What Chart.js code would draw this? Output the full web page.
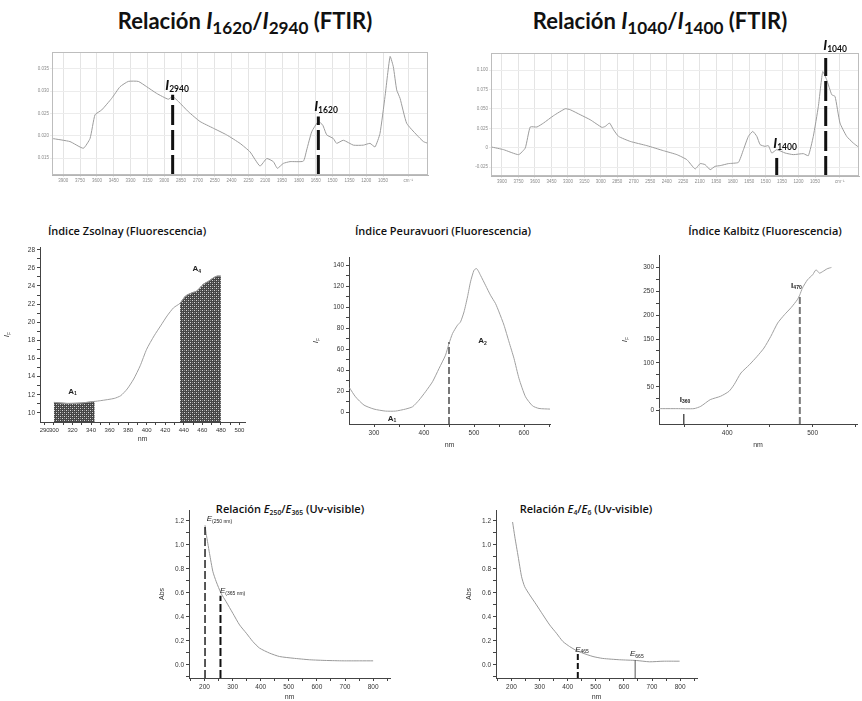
<!DOCTYPE html>
<html lang="es"><head><meta charset="utf-8">
<title>Índices espectroscópicos</title>
<script src="https://cdn.jsdelivr.net/npm/chart.js@4.4.1/dist/chart.umd.min.js"></script>
<style>
html,body{margin:0;padding:0;background:#fff}
body{position:relative;width:862px;height:701px;overflow:hidden}
canvas{position:absolute}
.t{position:absolute;white-space:nowrap;transform:translateX(-50%);color:#111;line-height:1}
.big{font:bold 22px Lato,'Open Sans',sans-serif}
.big sub{font-size:0.78em !important}
.small{font:600 11px 'Open Sans',Lato,sans-serif}
.t sub{font-size:0.62em;vertical-align:-0.3em;line-height:0}
</style></head><body>
<div class="t big" style="left:245px;top:7px">Relación <i>I</i><sub>1620</sub>/<i>I</i><sub>2940</sub> (FTIR)</div>
<div class="t big" style="left:660px;top:7px">Relación <i>I</i><sub>1040</sub>/<i>I</i><sub>1400</sub> (FTIR)</div>
<div class="t small" style="left:127px;top:223px">Índice Zsolnay (Fluorescencia)</div>
<div class="t small" style="left:443px;top:223px">Índice Peuravuori (Fluorescencia)</div>
<div class="t small" style="left:765px;top:223px">Índice Kalbitz (Fluorescencia)</div>
<div class="t small" style="left:290px;top:501px">Relación <i>E</i><sub>250</sub>/<i>E</i><sub>365</sub> (Uv-visible)</div>
<div class="t small" style="left:586px;top:501px">Relación <i>E</i><sub>4</sub>/<i>E</i><sub>6</sub> (Uv-visible)</div>
<script>
// ================= DATA =================
// FTIR common wavenumber ticks (cm-1)
const ftirTickValues = [3900,3750,3600,3450,3300,3150,3000,2850,2700,2550,2400,2250,2100,1950,1800,1650,1500,1350,1200,1050,825];
const ftirTickLabels = ['3900','3750','3600','3450','3300','3150','3000','2850','2700','2550','2400','2250','2100','1950','1800','1650','1500','1350','1200','1050','cm⁻¹'];

// FTIR spectrum 1 (I1620/I2940)
const ftir1Wn  = [4000,3840,3721,3661,3617,3557,3468,3394,3320,3231,3156,3067,2964,2925,2874,2785,2681,2563,2444,2325,2236,2147,2087,2028,1992,1939,1879,1761,1731,1686,1627,1588,1552,1494,1464,1404,1315,1226,1167,1122,1078,1033,988,959,929,899,840,751,691,650];
const ftir1Abs = [0.0194,0.0187,0.0172,0.0194,0.0247,0.0258,0.0284,0.0310,0.0322,0.0322,0.0310,0.0295,0.0282,0.0288,0.0277,0.0254,0.0232,0.0217,0.0202,0.0183,0.0164,0.0132,0.0149,0.0142,0.0127,0.0138,0.0142,0.0143,0.0168,0.0209,0.0232,0.0224,0.0202,0.0194,0.0183,0.0190,0.0179,0.0179,0.0183,0.0175,0.0205,0.0288,0.0378,0.0355,0.0303,0.0284,0.0228,0.0202,0.0187,0.0183];
const ftir1YTicks  = [0.015,0.020,0.025,0.030,0.035];
const ftir1YLabels = ['0.015','0.020','0.025','0.030','0.035'];
const ftir1PeakWn  = [2925,1627];
const ftir1PeakTop = [0.0292,0.0243];
const ftir1PeakSub = ['2940','1620'];

// FTIR spectrum 2 (I1040/I1400)
const ftir2Wn  = [4000,3885,3749,3688,3643,3582,3522,3431,3324,3279,3188,3097,2990,2960,2921,2885,2839,2733,2581,2430,2308,2217,2142,2096,2051,2005,1960,1914,1839,1748,1702,1657,1617,1580,1550,1505,1475,1444,1399,1323,1248,1157,1111,1066,1020,980,944,898,868,823,762,702,656];
const ftir2Abs = [0.001,-0.0026,-0.009,-0.0004,0.0267,0.0267,0.0318,0.0413,0.0503,0.049,0.0426,0.0361,0.0262,0.0275,0.0318,0.0232,0.0146,0.0081,0.0026,-0.0039,-0.009,-0.0155,-0.0275,-0.0206,-0.0219,-0.0284,-0.0241,-0.0232,-0.0206,-0.019,-0.0026,0.0146,0.021,0.0146,0.0039,0.0017,0.0026,-0.0069,-0.0026,-0.0069,-0.009,-0.0077,-0.0103,0.0146,0.0533,0.0984,0.0877,0.0684,0.0662,0.0318,0.0146,0.006,0.0009];
const ftir2YTicks  = [-0.025,0,0.025,0.05,0.075,0.1];
const ftir2YLabels = ['-0.025','0','0.025','0.050','0.075','0.100'];
const ftir2PeakWn  = [1399,953];
const ftir2PeakTop = [-0.0133,0.1157];
const ftir2PeakSub = ['1400','1040'];

// Zsolnay (fluorescence emission)
const zsNm = [300,314,329,344,350,365,372,379,386,393,400,408,415,422,429,436,442,449,454,461,467,472,476,480];
const zsIf = [11.16,11.05,11.09,11.27,11.35,11.6,11.9,12.64,13.74,15.2,17.03,18.5,19.6,20.7,21.6,22.09,22.9,23.25,23.44,24.18,24.54,24.9,25.09,25.09];
const zsBandA1 = [300,345];
const zsBandA4 = [435,480];
const zsXTicks  = [290,300,310,320,330,340,350,360,370,380,390,400,410,420,430,440,450,460,470,480,490,500];
const zsXLabels = ['290','300','','320','','340','','360','','380','','400','','420','','440','','460','','480','','500'];
const zsYTicks  = [10,11,12,13,14,15,16,17,18,19,20,21,22,23,24,25,26,27,28];
const zsYLabels = ['10','','12','','14','','16','','18','','20','','22','','24','','26','','28'];

// Peuravuori
const peNm = [251,263,280,300,323,343,363,377,390,403,417,430,443,450,457,467,473,480,487,493,500,505,509,513,523,533,543,550,560,570,580,590,603,617,630,652];
const peIf = [23.5,14.9,7.0,3.2,1.3,1.3,3.2,5.4,11.7,19.7,29.2,41.8,54.5,65.6,75.1,83.1,86.2,95.7,110,124.3,135.4,137,134.4,130.6,121.1,111.6,103.7,95.7,83.1,67.2,51.4,32.3,14.9,6.3,3.8,3.2];
const peCutNm = 450, peCutTop = 67;
const peXTicks  = [300,350,400,450,500,550,600,650];
const peXLabels = ['300','','400','','500','','600',''];
const peYTicks  = [0,10,20,30,40,50,60,70,80,90,100,110,120,130,140];
const peYLabels = ['0','','20','','40','','60','','80','','100','','120','','140'];

// Kalbitz
const kaNm = [320,341,361,369,380,392,402,408,416,426,435,443,451,459,467,475,482,485,488,494,500,504,508,512,517,522];
const kaIf = [4.2,4.2,4.2,9.1,23,30,40.4,54.4,78.8,96.2,113.7,131.1,155.5,183.4,200.9,216.2,232.2,242.7,256.6,274.1,284.5,295,288,291.5,297.1,299.9];
const kaMarkNm  = [349,485];
const kaMarkTop = [-7,242.7];
const kaMarkSub = ['360','470'];
const kaXTicks  = [350,400,450,500,550];
const kaXLabels = ['','400','','500',''];
const kaYTicks  = [0,25,50,75,100,125,150,175,200,225,250,275,300];
const kaYLabels = ['0','','50','','100','','150','','200','','250','','300'];

// UV-visible E2/E3
const e23Nm  = [202,206,212,218,230,242,259,277,301,325,349,372,396,432,467,515,574,634,693,752,800];
const e23Abs = [1.163,1.094,1.011,0.928,0.776,0.692,0.596,0.526,0.429,0.332,0.263,0.194,0.139,0.097,0.069,0.055,0.042,0.036,0.033,0.033,0.033];
const e23MarkNm  = [202,257];
const e23MarkTop = [1.163,0.575];
const e23MarkSub = ['(250 nm)','(365 nm)'];

// UV-visible E4/E6
const e46Nm  = [204,212,224,236,247,265,289,312,336,360,383,407,431,454,490,525,585,644,691,739,798];
const e46Abs = [1.19,1.066,0.9,0.734,0.651,0.582,0.499,0.416,0.332,0.263,0.194,0.152,0.119,0.097,0.069,0.053,0.042,0.036,0.025,0.030,0.030];
const e46MarkNm  = [436,640];
const e46MarkTop = [0.098,0.04];
const e46MarkSub = ['465','665'];

const uvXTicks  = [150,200,250,300,350,400,450,500,550,600,650,700,750,800,850];
const uvXLabels = ['','200','','300','','400','','500','','600','','700','','800',''];
const uvYTicks  = [-0.1,0,0.1,0.2,0.3,0.4,0.5,0.6,0.7,0.8,0.9,1.0,1.1,1.2];
const uvYLabels = ['','0.0','','0.2','','0.4','','0.6','','0.8','','1.0','','1.2'];

// ================= RENDERING =================
const FONT = "'Liberation Sans', Arial, sans-serif";

const framePlugin = {id:'frame', afterDraw(chart){
  const f = chart.canvas._frame; if(!f) return;
  const a = chart.chartArea, c = chart.ctx;
  c.save(); c.strokeStyle = f; c.lineWidth = 1;
  c.strokeRect(Math.round(a.left)+0.5, Math.round(a.top)+0.5, Math.round(a.right-a.left)-1, Math.round(a.bottom-a.top)-1);
  c.restore();
}};
const lblPlugin = {id:'lbl', afterDatasetsDraw(chart){
  const items = chart.canvas._labels || []; const c = chart.ctx;
  const xs = chart.scales.x, ys = chart.scales.y;
  items.forEach(it => {
    let px, py;
    if (it.axisTitle) { px = ys.left + it.dx; py = (chart.chartArea.top + chart.chartArea.bottom)/2; }
    else { px = xs.getPixelForValue(it.x); py = ys.getPixelForValue(it.y); }
    c.save(); c.fillStyle = it.col || '#111'; c.textBaseline = 'alphabetic'; c.textAlign = 'left';
    c.font = it.mf; const w1 = c.measureText(it.main).width;
    c.font = it.sf; const w2 = c.measureText(it.sub).width;
    c.translate(px, py); if (it.rot) c.rotate(it.rot);
    const x0 = it.align === 'left' ? 0 : -(w1 + w2)/2;
    c.font = it.mf; c.fillText(it.main, x0, 0);
    c.font = it.sf; c.fillText(it.sub, x0 + w1, it.ss || 2);
    c.restore();
  });
}};

function series(xs, ys, color, width, extra){
  return Object.assign({data: xs.map((x,i)=>({x:x, y:ys[i]})), borderColor:color, borderWidth:width,
    pointRadius:0, fill:false, tension:0.2, order:2}, extra||{});
}
function vline(x, y0, y1, color, width, dash){
  return {data:[{x:x,y:y0},{x:x,y:y1}], borderColor:color, borderWidth:width, borderDash:dash,
    borderCapStyle:'butt', pointRadius:0, fill:false, tension:0, order:0};
}

function build(o){
  const [cl,ct,cr,cb] = o.canvas, [al,at,ar,ab] = o.area;
  const cv = document.createElement('canvas'); const w = cr-cl, h = cb-ct;
  cv.width = w; cv.height = h;
  cv.style.left = cl+'px'; cv.style.top = ct+'px'; cv.style.width = w+'px'; cv.style.height = h+'px';
  cv._labels = o.labels || []; cv._frame = o.frame || null;
  document.body.appendChild(cv);
  const yW = al-cl, xH = cb-ab;
  const axis = (a, isX, n) => ({
    type:'linear', min:a.min, max:a.max, reverse:!!a.reverse,
    afterBuildTicks: s => { s.ticks = a.ticks.map(v => ({value:v})); },
    afterFit: s => { if (isX) s.height = n; else s.width = n; s.paddingLeft = 0; s.paddingRight = 0; s.paddingTop = 0; s.paddingBottom = 0; },
    ticks:{autoSkip:false, maxRotation:0, minRotation:0, padding:(a.pad!==undefined?a.pad:2), font:{family:FONT, size:a.fs}, color:a.fc,
      callback:(v,i) => a.labels[i]},
    grid:{display:true, drawOnChartArea:!!a.gridIn, drawTicks:true, tickLength:(a.tl!==undefined?a.tl:3), color:a.gc, lineWidth:1},
    border:{display:true, color:a.bc, width:1},
    title: a.title ? {display:true, text:a.title, padding:{top:(a.tp||0), bottom:0}, font:{family:FONT, size:(a.tfs||7)}, color:'#333'} : {display:false}
  });
  return new Chart(cv, {type:'line', data:{datasets:o.datasets}, options:{
    responsive:false, animation:false, devicePixelRatio:1, events:[],
    layout:{padding:{left:0, top:at-ct, right:cr-ar, bottom:0}},
    plugins:{legend:{display:false}, tooltip:{enabled:false}, title:{display:false}},
    scales:{x:axis(o.x, true, xH), y:axis(o.y, false, yW)}
  }, plugins:[framePlugin, lblPlugin]});
}

function hatch(){
  const c = document.createElement('canvas'); c.width = 4; c.height = 4;
  const g = c.getContext('2d');
  g.fillStyle = '#454545'; g.fillRect(0,0,4,4);
  g.fillStyle = '#d6d6d6'; g.fillRect(0,0,1,1); g.fillRect(2,2,1,1);
  g.fillStyle = '#8a8a8a'; g.fillRect(2,0,1,1); g.fillRect(0,2,1,1);
  return g.createPattern(c, 'repeat');
}

const FT_X = {min:650, max:4000, reverse:true, ticks:ftirTickValues, labels:ftirTickLabels, fs:4.5, fc:'#8a8a8a', gc:'#e4e4e4', bc:'#b5b5b5', gridIn:true, tl:2, pad:1};
const LBL_I = {mf:'italic bold 14px Lato, sans-serif', sf:'bold 8.5px Lato, sans-serif', ss:2.5};

// ---- FTIR 1
const f1min = 0.0112, f1max = 0.0388;
build({canvas:[34,40,432,190], area:[52,52,428,175], frame:'#bdbdbd',
  x:FT_X,
  y:{min:f1min, max:f1max, ticks:ftir1YTicks, labels:ftir1YLabels, fs:4.5, fc:'#8a8a8a', gc:'#ececec', bc:'#b5b5b5', gridIn:true, tl:2, pad:1},
  datasets:[...ftir1PeakWn.map((w,i) => vline(w, f1min, ftir1PeakTop[i], '#111', 3, [20,5])),
            series(ftir1Wn, ftir1Abs, '#9c9c9c', 1, {tension:0.15})],
  labels:[Object.assign({x:2886, y:0.0303, main:'I', sub:ftir1PeakSub[0]}, LBL_I),
          Object.assign({x:1559, y:0.0256, main:'I', sub:ftir1PeakSub[1]}, LBL_I)]
});

// ---- FTIR 2
const f2min = -0.0366, f2max = 0.1223;
build({canvas:[470,36,862,191], area:[491,53,859,176], frame:'#bdbdbd',
  x:FT_X,
  y:{min:f2min, max:f2max, ticks:ftir2YTicks, labels:ftir2YLabels, fs:4.5, fc:'#8a8a8a', gc:'#ececec', bc:'#b5b5b5', gridIn:true, tl:2, pad:1},
  datasets:[...ftir2PeakWn.map((w,i) => vline(w, f2min, ftir2PeakTop[i], '#111', 3, [20,5])),
            series(ftir2Wn, ftir2Abs, '#9c9c9c', 1, {tension:0.15})],
  labels:[Object.assign({x:1323, y:0, main:'I', sub:ftir2PeakSub[0]}, LBL_I),
          Object.assign({x:868, y:0.1264, main:'I', sub:ftir2PeakSub[1]}, LBL_I)]
});

const AX = {fs:6.5, fc:'#333', gc:'#444', bc:'#444', tl:3, pad:2};
const LBL_S = {mf:'bold 8px Liberation Sans, Arial, sans-serif', sf:'bold 5px Liberation Sans, Arial, sans-serif', ss:1.5, col:'#222'};
const LBL_IF = {axisTitle:true, main:'I', sub:'F', mf:'italic 8px Liberation Sans, Arial, sans-serif', sf:'5px Liberation Sans, Arial, sans-serif', ss:1.5, rot:-Math.PI/2, col:'#333'};

// ---- Zsolnay
const pat = hatch();
const band = (lo, hi) => { const xs = [], ys = []; zsNm.forEach((x,i) => { if (x >= lo && x <= hi) { xs.push(x); ys.push(zsIf[i]); } }); return [xs, ys]; };
const [a1x, a1y] = band(zsBandA1[0], zsBandA1[1]);
const [a4x, a4y] = band(zsBandA4[0], zsBandA4[1]);
build({canvas:[0,240,252,443], area:[40,247,245,422],
  x:Object.assign({min:285, max:506, ticks:zsXTicks, labels:zsXLabels, title:'nm'}, AX, {fs:6}),
  y:Object.assign({min:9, max:28.3, ticks:zsYTicks, labels:zsYLabels}, AX),
  datasets:[series(zsNm, zsIf, '#a0a0a0', 1, {order:1}),
            series(a1x, a1y, '#555', 0.8, {fill:'start', backgroundColor:pat, order:3}),
            series(a4x, a4y, '#555', 0.8, {fill:'start', backgroundColor:pat, order:3})],
  labels:[Object.assign({x:320, y:12.1, main:'A', sub:'1'}, LBL_S),
          Object.assign({x:454, y:25.65, main:'A', sub:'4'}, LBL_S),
          Object.assign({dx:9}, LBL_IF)]
});

// ---- Peuravuori
build({canvas:[310,250,556,449], area:[349,257,550,424],
  x:Object.assign({min:250, max:652, ticks:peXTicks, labels:peXLabels, title:'nm'}, AX),
  y:Object.assign({min:-11, max:148, ticks:peYTicks, labels:peYLabels}, AX),
  datasets:[vline(peCutNm, -11, peCutTop, '#777', 2, [7,3]),
            series(peNm, peIf, '#a0a0a0', 1)],
  labels:[Object.assign({x:336, y:-8.1, main:'A', sub:'1'}, LBL_S),
          Object.assign({x:517, y:66.1, main:'A', sub:'2'}, LBL_S),
          Object.assign({dx:8}, LBL_IF)]
});

// ---- Kalbitz
build({canvas:[618,248,862,449], area:[659,255,857,424],
  x:Object.assign({min:320, max:552, ticks:kaXTicks, labels:kaXLabels, title:'nm'}, AX),
  y:Object.assign({min:-28, max:326, ticks:kaYTicks, labels:kaYLabels}, AX),
  datasets:[vline(kaMarkNm[0], -28, kaMarkTop[0], '#555', 1.5, []),
            vline(kaMarkNm[1], -28, kaMarkTop[1], '#777', 2, [7,3]),
            series(kaNm, kaIf, '#a0a0a0', 1)],
  labels:[Object.assign({x:350.5, y:18.1, main:'I', sub:kaMarkSub[0]}, LBL_S),
          Object.assign({x:481, y:257, main:'I', sub:kaMarkSub[1]}, LBL_S),
          Object.assign({dx:9}, LBL_IF)]
});

const UVX = Object.assign({min:145, max:860, ticks:uvXTicks, labels:uvXLabels, title:'nm'}, AX);
const UVY = Object.assign({min:-0.11, max:1.29, ticks:uvYTicks, labels:uvYLabels, title:'Abs', tp:3}, AX);
const LBL_E = {mf:'italic 8px Liberation Sans, Arial, sans-serif', sf:'5px Liberation Sans, Arial, sans-serif', ss:1.5, col:'#222'};

// ---- E2/E3
build({canvas:[155,504,396,701], area:[189,510,390,678],
  x:UVX, y:UVY,
  datasets:[vline(e23MarkNm[0], -0.11, e23MarkTop[0], '#222', 1.5, [8,3]),
            vline(e23MarkNm[1], -0.11, e23MarkTop[1], '#111', 2, [8,3]),
            series(e23Nm, e23Abs, '#999', 1)],
  labels:[Object.assign({x:208, y:1.198, main:'E', sub:e23MarkSub[0], align:'left'}, LBL_E),
          Object.assign({x:255, y:0.598, main:'E', sub:e23MarkSub[1], align:'left'}, LBL_E)]
});

// ---- E4/E6
build({canvas:[462,504,703,701], area:[496,510,697,678],
  x:UVX, y:UVY,
  datasets:[vline(e46MarkNm[0], -0.11, e46MarkTop[0], '#111', 2, [6,3]),
            vline(e46MarkNm[1], -0.11, e46MarkTop[1], '#555', 1, []),
            series(e46Nm, e46Abs, '#999', 1)],
  labels:[Object.assign({x:451, y:0.11, main:'E', sub:e46MarkSub[0]}, LBL_E),
          Object.assign({x:646, y:0.073, main:'E', sub:e46MarkSub[1]}, LBL_E)]
});
</script>
</body></html>
